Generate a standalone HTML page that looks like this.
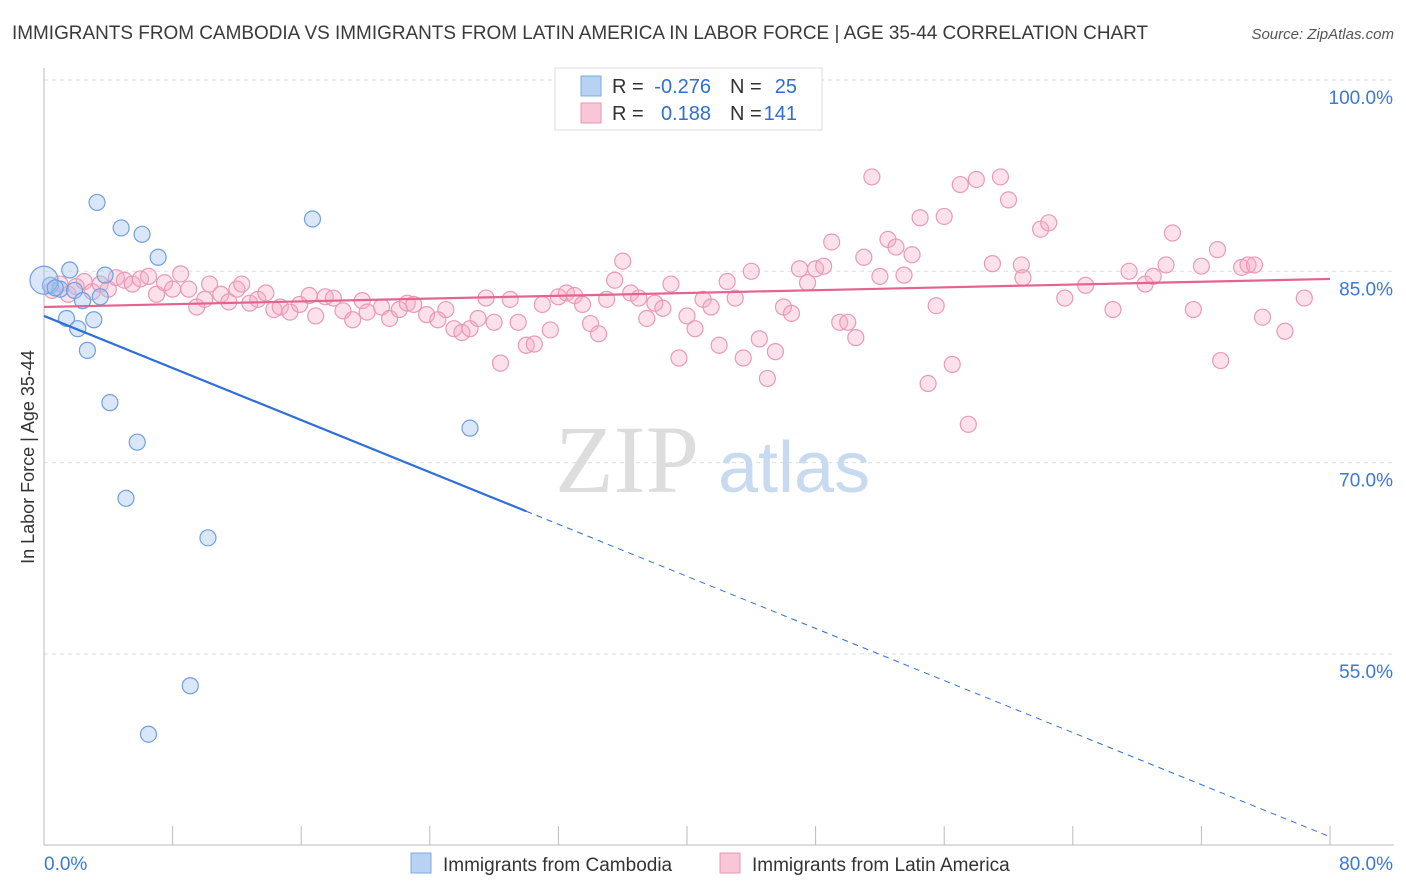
<!DOCTYPE html>
<html><head><meta charset="utf-8">
<style>
body{margin:0;background:#fff;font-family:"Liberation Sans",sans-serif;}
svg{display:block}
</style></head>
<body>
<svg id="chart" width="1406" height="892" xmlns="http://www.w3.org/2000/svg">
<text x="12" y="39" font-size="18.95" fill="#3a3a3a">IMMIGRANTS FROM CAMBODIA VS IMMIGRANTS FROM LATIN AMERICA IN LABOR FORCE | AGE 35-44 CORRELATION CHART</text>
<text x="1394" y="39" font-size="15" font-style="italic" fill="#555" text-anchor="end">Source: ZipAtlas.com</text>
<g id="grid"></g>
<g id="axes"></g>
<text x="555" y="492" font-size="96" font-family="Liberation Serif,serif" fill="#ddd">ZIP</text>
<text x="718" y="492" font-size="72" fill="#c8daf0">atlas</text>
<g id="marks"></g>
<text transform="translate(34,457) rotate(-90)" font-size="18" fill="#333" text-anchor="middle">In Labor Force | Age 35-44</text>
<g>
<rect x="555" y="68" width="267" height="62" fill="#fff" stroke="#ddd"/>
<rect x="581" y="76" width="20" height="20" fill="#b8d2f4" stroke="#7fa8e0"/>
<rect x="581" y="103" width="20" height="20" fill="#f8c6d6" stroke="#e897b2"/>
<text x="612" y="93" font-size="20" fill="#333">R =</text>
<text x="711" y="93" font-size="20" fill="#2f6fd0" text-anchor="end">-0.276</text>
<text x="730" y="93" font-size="20" fill="#333">N =</text>
<text x="797" y="93" font-size="20" fill="#2f6fd0" text-anchor="end">25</text>
<text x="612" y="120" font-size="20" fill="#333">R =</text>
<text x="711" y="120" font-size="20" fill="#2f6fd0" text-anchor="end">0.188</text>
<text x="730" y="120" font-size="20" fill="#333">N =</text>
<text x="797" y="120" font-size="20" fill="#2f6fd0" text-anchor="end">141</text>
</g>
<g>
<rect x="411" y="853" width="20" height="20" fill="#b8d2f4" stroke="#7fa8e0"/>
<text x="443" y="871" font-size="19" fill="#333">Immigrants from Cambodia</text>
<rect x="720" y="853" width="20" height="20" fill="#f8c6d6" stroke="#e897b2"/>
<text x="752" y="871" font-size="19" fill="#333">Immigrants from Latin America</text>
</g>
</svg>
<script>
const yTicks=[100,85,70,55];
const xTickLabels=["0.0%","80.0%"];
const blueX=[3.3,4.8,6.1,7.1,16.7,1.6,3.8,0.4,1,1.9,3.5,2.4,1.4,3.1,2.1,2.7,4.1,5.8,5.1,10.2,9.1,6.5,26.5,0,0.7];
const blueY=[90.4,88.4,87.9,86.1,89.1,85.1,84.7,83.9,83.6,83.5,83,82.7,81.3,81.2,80.5,78.8,74.7,71.6,67.2,64.1,52.5,48.7,72.7,84.3,83.7];
const pinkX=[0.5,1,1.5,2,2.5,3,3.5,4,4.5,5,5.5,6,6.5,7,7.5,8,8.5,9,9.5,10,10.3,11,11.5,12,12.3,12.8,13.3,13.8,14.3,14.7,15.3,15.9,16.5,16.9,17.5,18,18.6,19.2,19.8,20.1,21,21.5,22.1,22.6,23,23.8,24.5,25,25.5,26,26.5,27,27.5,28,28.4,29,29.5,30,30.5,31,31.5,32,32.5,33,33.5,34,34.5,35,35.5,36,36.5,37,37.5,38,38.5,39,39.5,40,40.5,41,41.5,42,42.5,43,43.5,44,44.5,45,45.5,46,46.5,47,47.5,48,48.5,49,49.5,50,50.5,51,51.5,52,52.5,53,53.5,54,54.5,55,55.5,56,56.5,57,57.5,58,59,59.5,60,60.8,60.9,62,62.5,63.5,64.8,66.5,67.5,68.5,69,69.8,70.2,71.5,72,73,73.2,74.5,74.9,75.3,75.8,77.2,78.4];
const pinkY=[83.5,84,83.2,83.8,84.2,83.4,84,83.6,84.5,84.3,84,84.4,84.6,83.2,84.1,83.6,84.8,83.6,82.2,82.8,84,83.2,82.6,83.6,84,82.5,82.8,83.3,82,82.2,81.8,82.4,83.1,81.5,83,82.9,81.9,81.2,82.7,81.8,82.2,81.3,82,82.5,82.4,81.6,81.2,82,80.5,80.2,80.5,81.3,82.9,81,77.8,82.8,81,79.2,79.3,82.4,80.4,83,83.3,83.1,82.4,80.9,80.1,82.8,84.3,85.8,83.3,82.9,81.3,82.5,82.1,84,78.2,81.5,80.5,82.8,82.2,79.2,84.2,82.9,78.2,85,79.7,76.6,78.7,82.2,81.7,85.2,84.1,85.2,85.4,87.3,81,81,79.8,86.1,92.4,84.6,87.5,86.9,84.7,86.3,89.2,76.2,82.3,89.3,77.7,91.8,73,92.2,85.6,92.4,90.6,85.5,84.5,88.3,88.8,82.9,83.9,82,85,84,84.6,85.5,88,82,85.4,86.7,78,85.3,85.5,85.5,81.4,80.3,82.9];
const blueTrend=[81.5,-0.5105];
const pinkTrend=[82.2,0.0275];
const NS="http://www.w3.org/2000/svg";
const X=v=>44+v*16.075, Y=v=>80+(100-v)*12.753;
function mk(t,a,p){const e=document.createElementNS(NS,t);for(const k in a)e.setAttribute(k,a[k]);p.appendChild(e);return e;}
const grid=document.getElementById('grid'),axes=document.getElementById('axes'),marks=document.getElementById('marks');
yTicks.forEach(t=>{
 const l=mk('line',{x1:44,x2:1394,y1:Y(t),y2:Y(t),stroke:'#ddd','stroke-dasharray':'4,4'},grid);
 
 
 const tx=mk('text',{x:1393,y:Y(t)+24,'font-size':19,fill:'#3b78d8','text-anchor':'end'},axes);
 tx.textContent=t.toFixed(1)+'%';
 
 
});
const ax=mk('line',{x1:44,x2:1394,y1:845,y2:845,stroke:'#bbb'},axes);


const ay=mk('line',{x1:44,x2:44,y1:68,y2:845,stroke:'#bbb'},axes);


for(let i=0;i<=10;i++){const tk=mk('line',{x1:X(i*8),x2:X(i*8),y1:826,y2:845,stroke:'#bbb'},axes);
 
 }
[[44,'start'],[1393,'end']].forEach((p,i)=>{const t=mk('text',{x:p[0],y:870,'font-size':19,fill:'#3b78d8','text-anchor':p[1]},axes);t.textContent=xTickLabels[i];
 
 });
pinkX.forEach((x,i)=>{const c=mk('circle',{cx:X(x),cy:Y(pinkY[i]),r:8,fill:'rgba(245,170,195,0.35)',stroke:'#e89ab5','stroke-width':1.2},marks);
 
 });
blueX.forEach((x,i)=>{const c=mk('circle',{cx:X(x),cy:Y(blueY[i]),r:i==23?14:8,fill:'rgba(160,195,240,0.4)',stroke:'#6f9fe0','stroke-width':1.2},marks);
 
 });
const by=x=>blueTrend[0]+blueTrend[1]*x, py=x=>pinkTrend[0]+pinkTrend[1]*x;
const b1=mk('line',{x1:X(0),y1:Y(by(0)),x2:X(30),y2:Y(by(30)),stroke:'#2f6fd8','stroke-width':2.2},marks);


const b2=mk('line',{x1:X(30),y1:Y(by(30)),x2:X(80),y2:Y(by(80)),stroke:'#2f6fd8','stroke-width':1,'stroke-dasharray':'6,5'},marks);


const p1=mk('line',{x1:X(0),y1:Y(py(0)),x2:X(80),y2:Y(py(80)),stroke:'#e6638f','stroke-width':2.2},marks);


</script>
</body></html>
